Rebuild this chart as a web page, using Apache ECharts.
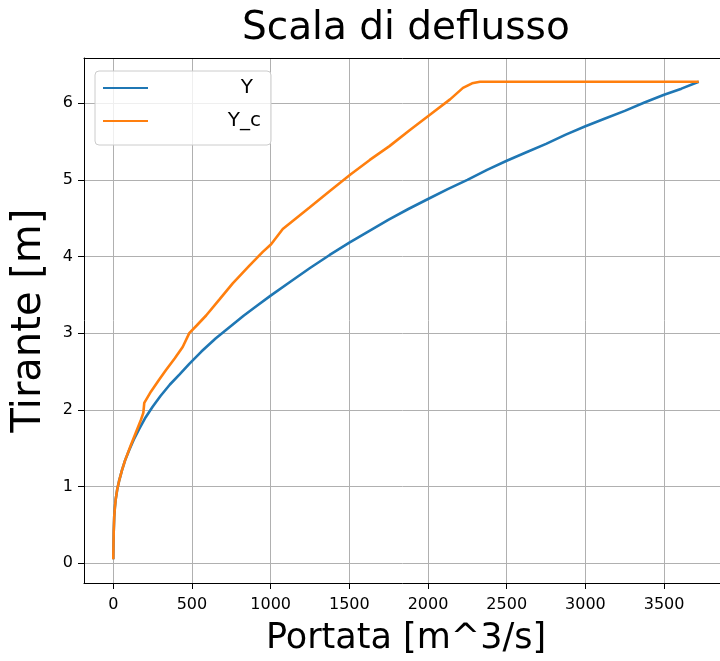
<!DOCTYPE html>
<html>
<head>
<meta charset="utf-8">
<script src="https://cdn.jsdelivr.net/npm/echarts@6/dist/echarts.min.js"></script>
<style>
html,body{margin:0;padding:0;background:#fff;}
#chart{width:720px;height:661px;}
</style>
</head>
<body>
<div id="chart"></div>
<script>
const titleText = 'Scala di deflusso';
const xName = 'Portata [m^3/s]';
const yName = 'Tirante [m]';
const seriesNames = ['Y', 'Y_c'];
const qTicks = [0, 500, 1000, 1500, 2000, 2500, 3000, 3500];
const hTicks = [0, 1, 2, 3, 4, 5, 6];

// Y (blue)
const blueQ = [0, 1, 3, 6, 10, 16, 25, 38, 55, 75, 100, 130, 165, 205, 250, 300, 360, 420, 483, 560, 650, 740, 830, 915, 1000, 1125, 1250, 1375, 1500, 1625, 1750, 1875, 2000, 2125, 2250, 2375, 2500, 2625, 2750, 2875, 3000, 3125, 3250, 3375, 3500, 3610, 3720];
const blueH = [0.05, 0.2, 0.42, 0.6, 0.72, 0.84, 0.96, 1.08, 1.21, 1.34, 1.47, 1.61, 1.75, 1.90, 2.04, 2.18, 2.33, 2.46, 2.60, 2.76, 2.93, 3.08, 3.23, 3.36, 3.49, 3.67, 3.85, 4.02, 4.18, 4.33, 4.48, 4.62, 4.75, 4.88, 5.00, 5.13, 5.25, 5.36, 5.47, 5.59, 5.70, 5.80, 5.90, 6.01, 6.11, 6.19, 6.28];

// Y_c (orange)
const orangeQ = [0, 1, 3, 6, 10, 16, 25, 38, 55, 75, 112, 145, 176, 191, 197, 240, 290, 335, 390, 441, 483, 530, 590, 675, 759, 865, 950, 1003, 1077, 1247, 1380, 1507, 1630, 1755, 1885, 2012, 2140, 2222, 2280, 2330, 3720];
const orangeH = [0.05, 0.2, 0.42, 0.6, 0.72, 0.84, 0.96, 1.08, 1.21, 1.34, 1.54, 1.71, 1.87, 1.96, 2.09, 2.24, 2.39, 2.52, 2.67, 2.82, 3.00, 3.10, 3.23, 3.44, 3.65, 3.88, 4.06, 4.16, 4.36, 4.64, 4.86, 5.07, 5.26, 5.44, 5.65, 5.85, 6.05, 6.20, 6.26, 6.28, 6.28];

const pairs = (xs, ys) => xs.map((x, i) => [x, ys[i]]);
const FONT = 'DejaVu Sans';

const chart = echarts.init(document.getElementById('chart'), null, {renderer: 'canvas'});
chart.setOption({
  animation: false,
  backgroundColor: '#ffffff',
  title: {
    text: titleText,
    left: 242,
    top: 9,
    padding: 0,
    textStyle: {fontSize: 39, fontWeight: 'normal', fontFamily: FONT, color: '#000'}
  },
  grid: {
    left: 84, top: 58, width: 644, height: 525,
    outerBoundsMode: 'none',
    containLabel: false,
    show: false
  },
  legend: {
    data: seriesNames,
    orient: 'vertical',
    left: 95, top: 71,
    padding: [7, 10, 14, 7],
    itemGap: 13,
    itemWidth: 45,
    itemHeight: 20,
    itemStyle: {opacity: 0, color: 'rgba(0,0,0,0)', borderColor: 'rgba(0,0,0,0)', borderWidth: 0},
    backgroundColor: 'rgba(255,255,255,0.8)',
    borderColor: '#cccccc',
    borderWidth: 1,
    borderRadius: 4,
    formatter: function (name) { return name === 'Y' ? '{a|' + name + '}' : '{b|' + name + '}'; },
    textStyle: {
      fontSize: 20, color: '#000', fontFamily: FONT, lineHeight: 20,
      rich: {
        a: {width: 100, align: 'right', fontSize: 20, lineHeight: 20, fontFamily: FONT, color: '#000'},
        b: {width: 108, align: 'right', fontSize: 20, lineHeight: 20, fontFamily: FONT, color: '#000'}
      }
    }
  },
  xAxis: [
    {
      type: 'value',
      position: 'bottom',
      min: -186, max: 3906,
      name: xName,
      nameLocation: 'middle',
      nameGap: 38,
      nameTextStyle: {fontSize: 35, color: '#000', fontFamily: FONT},
      axisLine: {show: true, onZero: false, lineStyle: {color: '#000', width: 1}},
      axisTick: {show: true, length: 6, customValues: qTicks, lineStyle: {color: '#000', width: 1}},
      axisLabel: {customValues: qTicks, fontSize: 16, color: '#000', fontFamily: FONT, margin: 14,
                  formatter: function (v) { return String(v); }},
      splitLine: {show: true, lineStyle: {color: '#b0b0b0', width: 1}}
    },
    {
      type: 'value',
      position: 'top',
      min: -186, max: 3906,
      axisLine: {show: true, onZero: false, lineStyle: {color: '#000', width: 1}},
      axisTick: {show: false},
      axisLabel: {show: false},
      splitLine: {show: false}
    }
  ],
  yAxis: {
    type: 'value',
    min: -0.26, max: 6.59,
    name: yName,
    nameLocation: 'middle',
    nameGap: 34,
    nameTextStyle: {fontSize: 40, color: '#000', fontFamily: FONT},
    axisLine: {show: true, onZero: false, lineStyle: {color: '#000', width: 1}},
    axisTick: {show: true, length: 6, customValues: hTicks, lineStyle: {color: '#000', width: 1}},
    axisLabel: {customValues: hTicks, fontSize: 16, color: '#000', fontFamily: FONT, margin: 11,
                formatter: function (v) { return String(v); }},
    splitLine: {show: true, lineStyle: {color: '#b0b0b0', width: 1}}
  },
  series: [
    {
      name: seriesNames[0], type: 'line', data: pairs(blueQ, blueH),
      xAxisIndex: 0, symbol: 'none', smooth: false, z: 3,
      lineStyle: {width: 2.6, color: '#1f77b4'}, itemStyle: {color: '#1f77b4'}
    },
    {
      name: seriesNames[1], type: 'line', data: pairs(orangeQ, orangeH),
      xAxisIndex: 0, symbol: 'none', smooth: false, z: 4,
      lineStyle: {width: 2.6, color: '#ff7f0e'}, itemStyle: {color: '#ff7f0e'}
    }
  ]
});
</script>
</body>
</html>
